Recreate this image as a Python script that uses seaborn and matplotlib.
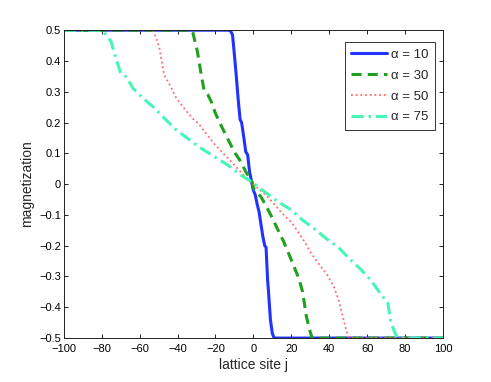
import numpy as np
import pandas as pd
import matplotlib
matplotlib.use("Agg")
import matplotlib.pyplot as plt
import seaborn as sns
from matplotlib.ticker import FuncFormatter, MultipleLocator

# magnetization profiles m(j)
j_10 = [-100, -13, -12, -11, -10, -9, -8, -7, -6.2, -5, -4, -3, -2, -1, 0, 1, 2, 3, 4, 5, 6, 6.7, 7.5, 8, 9, 10, 11, 100]
m_10 = [0.5, 0.5, 0.497, 0.485, 0.42, 0.35, 0.275, 0.21, 0.2, 0.15, 0.105, 0.095, 0.04, 0.01, -0.02, -0.035, -0.065, -0.09, -0.13, -0.17, -0.2, -0.205, -0.31, -0.35, -0.44, -0.485, -0.5, -0.5]

j_30 = [-100, -33, -32, -29.5, -27.5, -26, -24, -22, -20, -17, -13.5, -10, -6.5, -4, -1, 0.5, 4, 7, 10, 13, 16, 19, 21.5, 24, 26, 28, 30, 31, 100]
m_30 = [0.5, 0.5, 0.494, 0.43, 0.355, 0.305, 0.29, 0.265, 0.23, 0.19, 0.147, 0.104, 0.072, 0.04, 0.013, -0.019, -0.041, -0.074, -0.11, -0.149, -0.187, -0.231, -0.269, -0.306, -0.35, -0.431, -0.48, -0.5, -0.5]

j_50 = [-100, -53, -51, -49.5, -48, -47, -44, -41, -36.5, -32, -29, -25, -20.5, -15, -10, -5, 0.5, 7.5, 14.5, 20.5, 27, 30.5, 35, 39, 42.5, 45, 47, 49, 50.5, 100]
m_50 = [0.5, 0.5, 0.47, 0.44, 0.386, 0.354, 0.321, 0.283, 0.246, 0.213, 0.197, 0.165, 0.13, 0.094, 0.062, 0.029, -0.003, -0.041, -0.09, -0.127, -0.187, -0.225, -0.263, -0.295, -0.333, -0.377, -0.425, -0.474, -0.5, -0.5]

j_75 = [-100, -80, -77, -75, -72.5, -70, -67, -63.5, -58, -52, -46, -40.5, -33.5, -27.5, -20.5, -13.5, -6.5, -1, 6, 13, 20, 26, 32, 38.5, 44.5, 50.5, 57, 62, 67, 71, 72.5, 74.5, 76, 100]
m_75 = [0.5, 0.5, 0.48, 0.462, 0.408, 0.36, 0.348, 0.311, 0.278, 0.246, 0.208, 0.175, 0.143, 0.116, 0.089, 0.062, 0.029, 0.008, -0.025, -0.057, -0.084, -0.117, -0.144, -0.177, -0.203, -0.241, -0.279, -0.312, -0.355, -0.387, -0.447, -0.48, -0.5, -0.5]

series = [
    ("α = 10", j_10, m_10, "#2233ff", "-", 2.2),
    ("α = 30", j_30, m_30, "#1fa01f", (0, (3.3, 2.0)), 2.2),
    ("α = 50", j_50, m_50, "#ff6a6a", (0, (1, 1.6)), 1.3),
    ("α = 75", j_75, m_75, "#44f7b4", (0, (4, 1.6, 0.8, 1.6)), 2.2),
]

sns.set_style("white")
plt.rcParams["font.family"] = ["Liberation Sans", "DejaVu Sans"]

fig = plt.figure(figsize=(4.91, 3.82), dpi=100)
ax = fig.add_axes([0.130, 0.115, 0.772, 0.806])

for label, jj, mm, color, ls, lw in series:
    df = pd.DataFrame({"j": jj, "m": mm})
    sns.lineplot(data=df, x="j", y="m", ax=ax, sort=False, color=color,
                 linestyle=ls, linewidth=lw, label=label)

ax.set_xlim(-100, 100)
ax.set_ylim(-0.5, 0.5)
ax.xaxis.set_major_locator(MultipleLocator(20))
ax.yaxis.set_major_locator(MultipleLocator(0.1))
fmt = FuncFormatter(lambda v, p: "0" if abs(v) < 1e-9 else ("%g" % round(v, 2)).replace("-", "\u2212"))
ax.xaxis.set_major_formatter(fmt)
ax.yaxis.set_major_formatter(fmt)
ax.tick_params(direction="in", length=3, width=0.6, labelsize=8, top=True, right=True,
               bottom=True, left=True, colors="black")
ax.tick_params(axis="x", pad=4)
ax.tick_params(axis="y", pad=2)
for s in ax.spines.values():
    s.set_linewidth(0.7)
    s.set_color("#222222")

ax.set_xlabel("lattice site j", fontsize=10, labelpad=3)
ax.set_ylabel("magnetization", fontsize=10, labelpad=4)

leg = ax.legend(loc="upper right", bbox_to_anchor=(0.979, 0.961), borderaxespad=0,
                fontsize=9.5, frameon=True, fancybox=False, framealpha=1,
                handlelength=2.7, labelspacing=0.65, borderpad=0.5, handletextpad=0.3)
leg.get_frame().set_edgecolor("#333333")
leg.get_frame().set_linewidth(0.7)

fig.savefig("out.png", dpi=100)
